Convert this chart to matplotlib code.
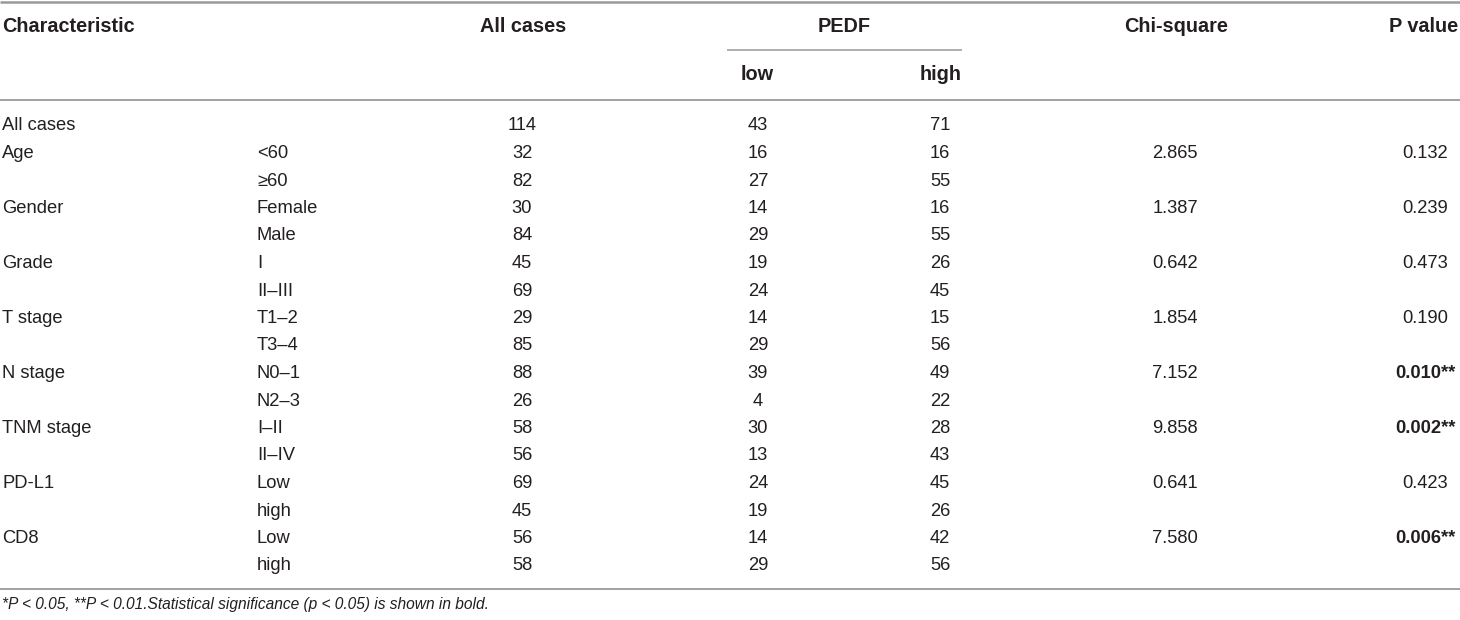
import matplotlib
matplotlib.use("Agg")
import matplotlib.pyplot as plt

# ---- data ----
characteristics = ["All cases", "Age", "", "Gender", "", "Grade", "", "T stage", "",
                   "N stage", "", "TNM stage", "", "PD-L1", "", "CD8", ""]
subgroups = ["", "<60", "≥60", "Female", "Male", "I", "II–III", "T1–2", "T3–4",
             "N0–1", "N2–3", "I–II", "II–IV", "Low", "high", "Low", "high"]
all_cases = [114, 32, 82, 30, 84, 45, 69, 29, 85, 88, 26, 58, 56, 69, 45, 56, 58]
pedf_low = [43, 16, 27, 14, 29, 19, 24, 14, 29, 39, 4, 30, 13, 24, 19, 14, 29]
pedf_high = [71, 16, 55, 16, 55, 26, 45, 15, 56, 49, 22, 28, 43, 45, 26, 42, 56]
chi_square = ["", "2.865", "", "1.387", "", "0.642", "", "1.854", "",
              "7.152", "", "9.858", "", "0.641", "", "7.580", ""]
p_values = ["", "0.132", "", "0.239", "", "0.473", "", "0.190", "",
            "0.010**", "", "0.002**", "", "0.423", "", "0.006**", ""]
p_bold = [False, False, False, False, False, False, False, False, False,
          True, False, True, False, False, False, True, False]
headers = ["Characteristic", "All cases", "PEDF", "Chi-square", "P value"]
sub_headers = ["low", "high"]
footnote = "*P < 0.05, **P < 0.01.Statistical significance (p < 0.05) is shown in bold."

# ---- layout ----
W, H = 1460, 620
fig = plt.figure(figsize=(W / 100, H / 100), dpi=100)
ax = fig.add_axes([0, 0, 1, 1])
ax.set_xlim(0, W)
ax.set_ylim(H, 0)
ax.axis("off")

FONT = ["Liberation Sans", "DejaVu Sans"]
TXT = "#231F20"
FS = 13.2
HFS = 14.3
LINE = "#9a9a9a"

# rules
ax.plot([0, W], [1.5, 1.5], color=LINE, lw=1.8, solid_capstyle="butt")
ax.plot([0, W], [100, 100], color=LINE, lw=1.3, solid_capstyle="butt")
ax.plot([0, W], [589, 589], color=LINE, lw=1.3, solid_capstyle="butt")
ax.plot([727, 962], [50, 50], color=LINE, lw=1.1, solid_capstyle="butt")

hy = 27
hkw = dict(fontsize=HFS, fontweight="bold", color=TXT, family=FONT, va="center")
ax.text(2, hy, headers[0], ha="left", **hkw)
ax.text(523, hy, headers[1], ha="center", **hkw)
ax.text(844, hy, headers[2], ha="center", **hkw)
ax.text(1176, hy, headers[3], ha="center", **hkw)
ax.text(1424, hy, headers[4], ha="center", **hkw)
ax.text(757, 75, sub_headers[0], ha="center", **hkw)
ax.text(941, 75, sub_headers[1], ha="center", **hkw)

rkw = dict(fontsize=FS, color=TXT, family=FONT, va="center")
y0, dy = 126, 27.5
for i in range(len(subgroups)):
    y = y0 + dy * i
    ax.text(2, y, characteristics[i], ha="left", **rkw)
    ax.text(257, y, subgroups[i], ha="left", **rkw)
    ax.text(522, y, str(all_cases[i]), ha="center", **rkw)
    ax.text(758, y, str(pedf_low[i]), ha="center", **rkw)
    ax.text(940, y, str(pedf_high[i]), ha="center", **rkw)
    ax.text(1175, y, chi_square[i], ha="center", **rkw)
    ax.text(1425, y, p_values[i], ha="center",
            fontweight="bold" if p_bold[i] else "normal", **rkw)

ax.text(2, 605, footnote, ha="left", va="center", fontsize=11.2, style="italic",
        color=TXT, family=FONT)

fig.savefig("out.png", dpi=100)
